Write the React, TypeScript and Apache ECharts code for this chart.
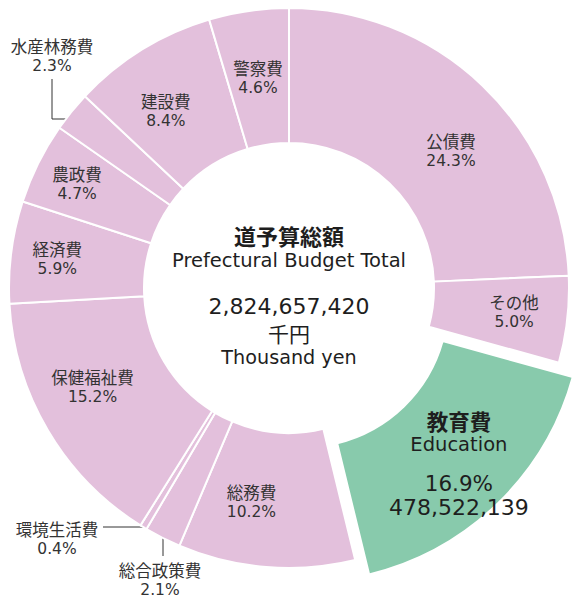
import React, { useEffect, useRef } from "react";
import * as echarts from "echarts";

// ---- data ----
const categories = [
  "公債費",
  "その他",
  "教育費",
  "総務費",
  "総合政策費",
  "環境生活費",
  "保健福祉費",
  "経済費",
  "農政費",
  "水産林務費",
  "建設費",
  "警察費",
];
const shares = [24.3, 5.0, 16.9, 10.2, 2.1, 0.4, 15.2, 5.9, 4.7, 2.3, 8.4, 4.6];
const totalBudget = "2,824,657,420";
const educationAmount = "478,522,139";
const highlighted = "教育費";
const highlightedEnglish = "Education";
const outsideLabels = ["水産林務費", "環境生活費", "総合政策費"];

// ---- styles ----
const PINK = "#e3c0dc";
const GREEN = "#88caac";
const TEXT = "#1e1e1e";
const LABEL = "#333333";
const FONT = "'DejaVu Sans', 'Noto Sans CJK JP', sans-serif";
const CJK = "'Noto Sans CJK JP', sans-serif";
const CX = 289;
const CY = 288;

// inside label nudges (dx, dy)
const labelNudge: Record<string, [number, number]> = {
  公債費: [13, 19],
  その他: [11, 0],
  教育費: [6, 7],
  総務費: [-20, -1],
  保健福祉費: [-11, -11],
  経済費: [-18, -1],
  農政費: [-19, -8],
  建設費: [-10, 6],
  警察費: [0, 3],
};
// outside label placements: label centre and leader points
const outsidePlace: Record<string, { x: number; y: number; pts: number[][] }> = {
  水産林務費: { x: 52, y: 56, pts: [[68, 119], [52, 119], [52, 79]] },
  環境生活費: { x: 57, y: 539, pts: [[143, 527], [103, 527]] },
  総合政策費: { x: 160, y: 580, pts: [[163, 527], [163, 556]] },
};

export default function App() {
  const ref = useRef<HTMLDivElement>(null);
  useEffect(() => {
    if (!ref.current) return;
    const chart = echarts.init(ref.current, undefined, { renderer: "svg" });

    const data = categories.map((name, i) => {
      const isHi = name === highlighted;
      const isOut = outsideLabels.includes(name);
      const item: any = {
        name,
        value: shares[i],
        selected: isHi,
        itemStyle: { color: isHi ? GREEN : PINK },
      };
      if (isHi) {
        item.label = {
          formatter: (p: any) =>
            `{b|${p.name}}\n{e|${highlightedEnglish}}\n{s|}\n{p|${p.value.toFixed(1)}%}\n{v|${educationAmount}}`,
          rich: {
            b: { fontSize: 21.5, fontWeight: "bold", lineHeight: 24, color: TEXT, fontFamily: CJK },
            e: { fontSize: 19.5, lineHeight: 24, color: TEXT, fontFamily: FONT },
            s: { fontSize: 10, lineHeight: 15 },
            p: { fontSize: 21.5, lineHeight: 24, color: TEXT, fontFamily: FONT },
            v: { fontSize: 22, lineHeight: 24, color: TEXT, fontFamily: FONT },
          },
        };
      }
      if (isOut) {
        item.label = { position: "outside" };
        item.labelLine = { show: true, lineStyle: { color: "#333", width: 1 } };
      }
      return item;
    });

    const centerText = (text: string, y: number, font: string) => ({
      type: "text",
      x: CX,
      y,
      silent: true,
      style: { text, fill: TEXT, font, align: "center", verticalAlign: "middle" },
    });

    chart.setOption({
      animation: false,
      backgroundColor: "#ffffff",
      graphic: [
        centerText("道予算総額", 235, `bold 22px ${CJK}`),
        centerText("Prefectural Budget Total", 260, `19.5px ${FONT}`),
        centerText(totalBudget, 306, `22px ${FONT}`),
        centerText("千円", 333, `21px ${CJK}`),
        centerText("Thousand yen", 357, `19.2px ${FONT}`),
      ],
      series: [
        {
          type: "pie",
          center: [CX, CY],
          radius: [145, 280],
          startAngle: 90,
          clockwise: true,
          selectedMode: "single",
          selectedOffset: 20,
          avoidLabelOverlap: false,
          emphasis: { disabled: true },
          itemStyle: { borderColor: "#ffffff", borderWidth: 2 },
          label: {
            show: true,
            position: "inside",
            color: LABEL,
            fontFamily: FONT,
            formatter: (p: any) => `{n|${p.name}}\n{p|${p.value.toFixed(1)}%}`,
            rich: {
              n: { fontSize: 16.5, lineHeight: 20, color: LABEL, fontFamily: CJK, align: "center" },
              p: { fontSize: 15.5, lineHeight: 20, color: LABEL, fontFamily: FONT, align: "center" },
            },
          },
          labelLine: { show: false },
          labelLayout: (p: any) => {
            const name = categories[p.dataIndex];
            const o = outsidePlace[name];
            if (o) {
              return { x: o.x, y: o.y, align: "center", verticalAlign: "middle", labelLinePoints: o.pts };
            }
            const n = labelNudge[name] || [0, 0];
            return { dx: n[0], dy: n[1] };
          },
          data,
        },
      ],
    });
    return () => chart.dispose();
  }, []);
  return <div ref={ref} style={{ position: "fixed", left: 0, top: 0, width: 573, height: 601 }} />;
}
